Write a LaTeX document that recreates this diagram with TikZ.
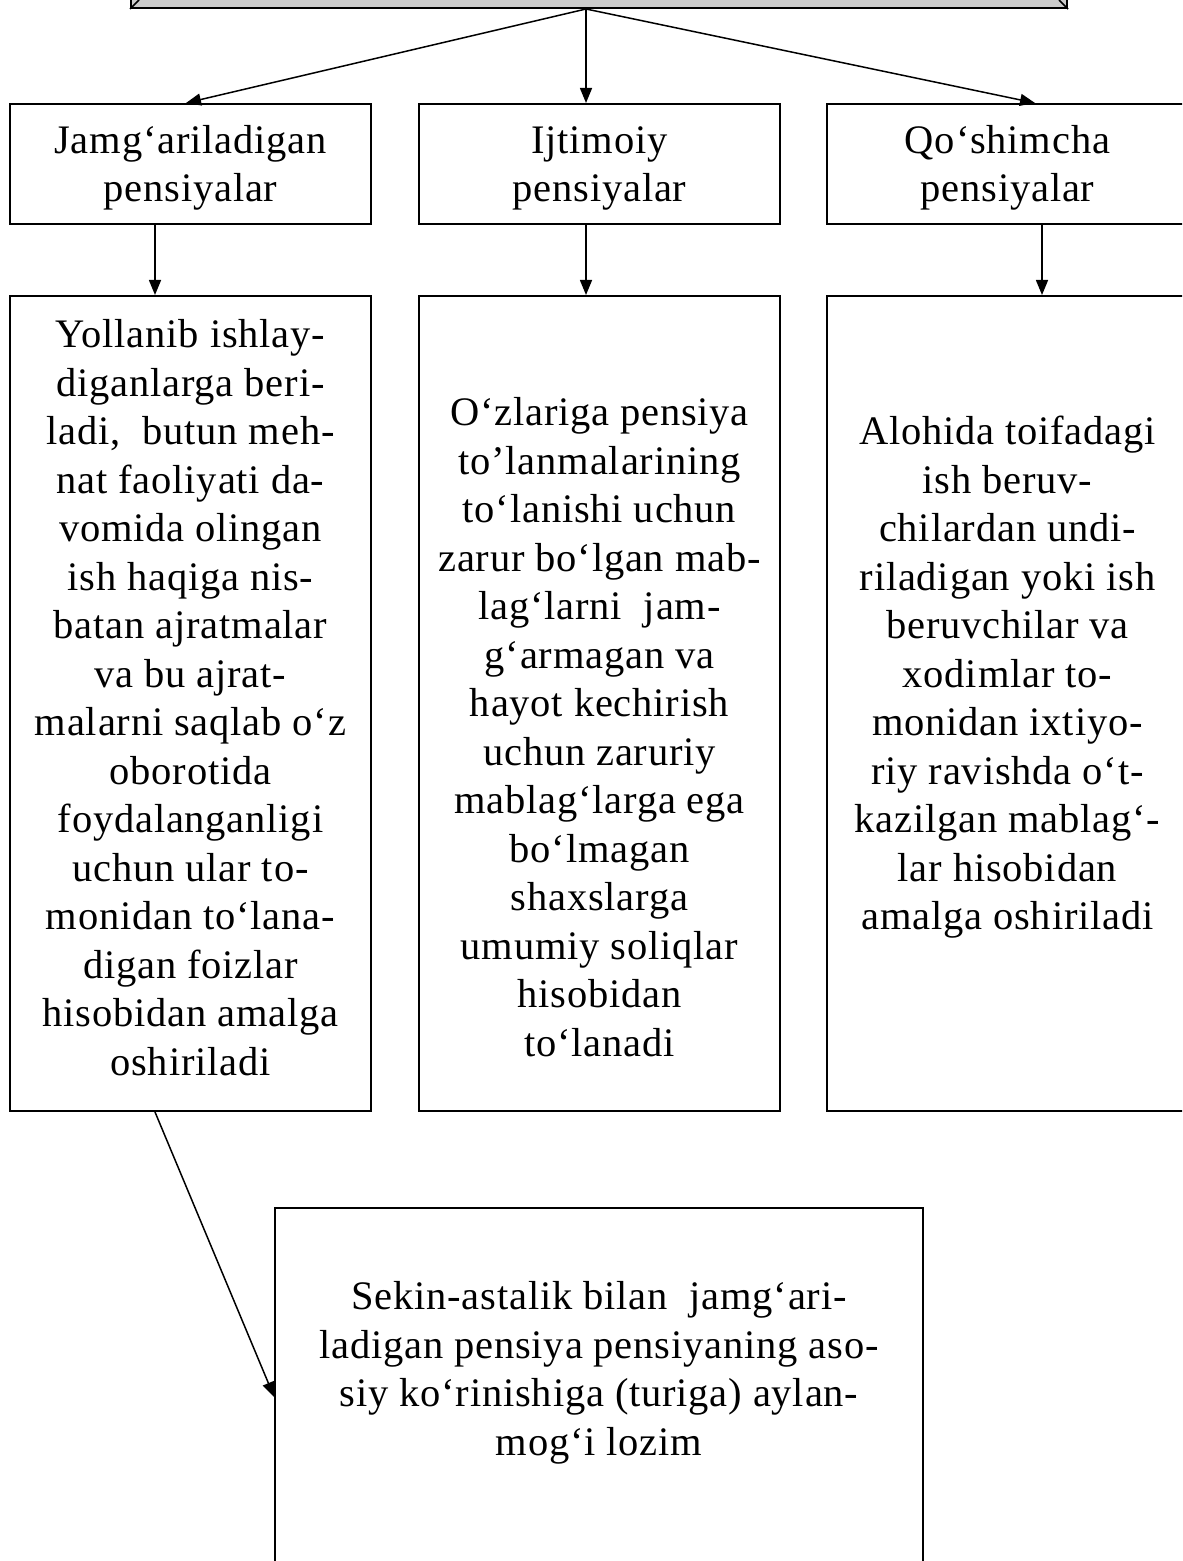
\documentclass[tikz,border=0pt]{standalone}
\usepackage{fontspec}
\setmainfont{Liberation Serif}[LetterSpace=2]
\usetikzlibrary{arrows.meta,calc}
\definecolor{bevel}{HTML}{CCCCCC}
\newcommand{\toplift}{\rule{0pt}{17.8pt}}
\begin{document}
\begin{tikzpicture}[x=0.5pt,y=-0.5pt,
  box/.style={draw,line width=1pt,inner sep=0pt},
  txt/.style={font=\fontsize{20.25}{24.25}\selectfont,align=center,inner sep=0pt},
  arr/.style={line width=0.75pt,-{Triangle[length=7.5pt,width=6pt]}}]
\useasboundingbox (0,0) rectangle (1182,1561);
\clip (0,0) rectangle (1182,1561);
% top bevel box
\node[box,fill=bevel,minimum width=468pt,minimum height=30pt] (top) at (599,-22) {};
\draw[line width=0.8pt] (top.south west) -- ++(9,-9) (top.south east) -- ++(-9,-9);
% first row
\node[box,txt,minimum width=180.5pt,minimum height=60pt] (l1) at (190.5,164) {\toplift Jamg‘ariladigan\\pensiyalar};
\node[box,txt,minimum width=180.5pt,minimum height=60pt] (m1) at (599.5,164) {\toplift Ijtimoiy\\pensiyalar};
\node[box,txt,minimum width=180.5pt,minimum height=60pt] (r1) at (1007.5,164) {\toplift Qo‘shimcha\\pensiyalar};
% second row
\node[box,minimum width=180.5pt,minimum height=407.5pt] (l2) at (190.5,703.5) {};
\node[box,minimum width=180.5pt,minimum height=407.5pt] (m2) at (599.5,703.5) {};
\node[box,minimum width=180.5pt,minimum height=407.5pt] (r2) at (1007.5,703.5) {};
\node[txt,anchor=north] (l2t) at (190.5,319) {Yollanib ishlay-\\diganlarga beri-\\ladi,\ \ butun meh-\\nat faoliyati da-\\vomida olingan\\ish haqiga nis-\\batan ajratmalar\\va bu ajrat-\\malarni saqlab o‘z\\oborotida\\foydalanganligi\\uchun ular to-\\monidan to‘lana-\\digan foizlar\\hisobidan amalga\\oshiriladi};
\node[txt,anchor=north] (m2t) at (599.5,397) {O‘zlariga pensiya\\to’lanmalarining\\to‘lanishi uchun\\zarur bo‘lgan mab-\\lag‘larni\ \ jam-\\g‘armagan va\\hayot kechirish\\uchun zaruriy\\mablag‘larga ega\\bo‘lmagan\\shaxslarga\\umumiy soliqlar\\hisobidan\\to‘lanadi};
\node[txt,anchor=north] (r2t) at (1007.5,416) {Alohida toifadagi\\ish beruv-\\chilardan undi-\\riladigan yoki ish\\beruvchilar va\\xodimlar to-\\monidan ixtiyo-\\riy ravishda o‘t-\\kazilgan mablag‘-\\lar hisobidan\\amalga oshiriladi};
% bottom box
\node[box,line width=0.8pt,minimum width=324pt,minimum height=206pt] (bot) at (599,1414) {};
\node[txt,anchor=north] (bott) at (599,1281) {Sekin-astalik bilan\ \ jamg‘ari-\\ladigan pensiya pensiyaning aso-\\siy ko‘rinishiga (turiga) aylan-\\mog‘i lozim};
% connectors
\draw[arr] ($(top.south)+(-13,0)$) -- ($(l1.north)+(-4.5,0)$);
\draw[arr] ($(top.south)+(-13,0)$) -- ($(m1.north)+(-13.5,0)$);
\draw[arr] ($(top.south)+(-13,0)$) -- ($(r1.north)+(27.5,0)$);
\draw[arr] ($(l1.south)+(-35.5,0)$) -- ($(l2.north)+(-35.5,0)$);
\draw[arr] ($(m1.south)+(-13.5,0)$) -- ($(m2.north)+(-13.5,0)$);
\draw[arr] ($(r1.south)+(34.5,0)$) -- ($(r2.north)+(34.5,0)$);
\draw[arr] ($(l2.south)+(-35.5,0)$) -- ($(bot.west)+(0,-17)$);
\end{tikzpicture}
\end{document}
